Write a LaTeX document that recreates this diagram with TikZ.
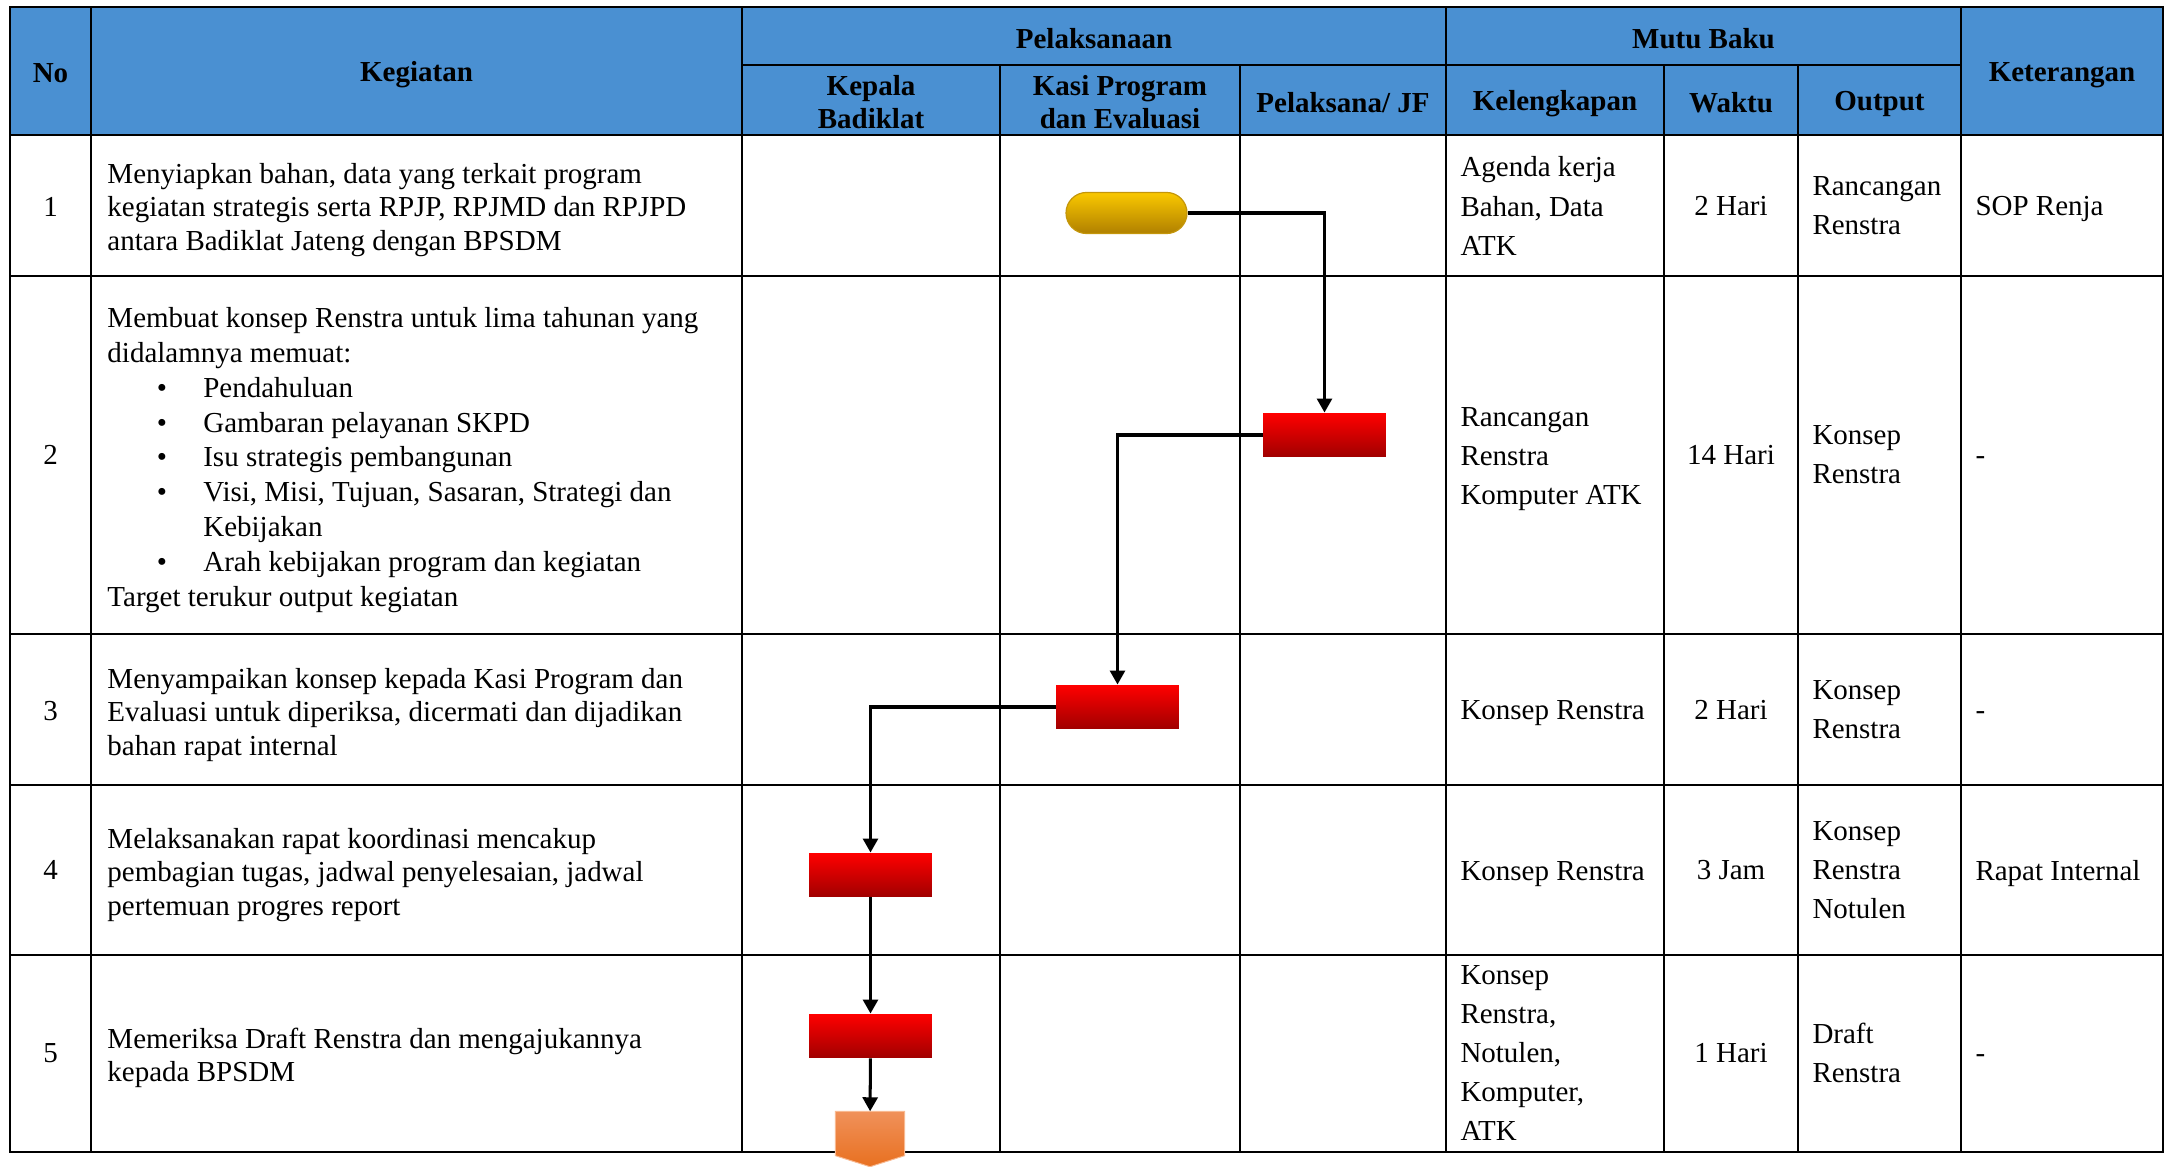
\documentclass[tikz,border=0pt]{standalone}
\usepackage{fontspec}
\setmainfont{Liberation Serif}
\usetikzlibrary{positioning, arrows.meta, calc}

\definecolor{headblue}{RGB}{74,144,210}
\definecolor{startTop}{RGB}{250,200,0}
\definecolor{startBot}{RGB}{176,128,0}
\definecolor{startLine}{RGB}{196,150,10}
\definecolor{procTop}{RGB}{255,0,0}
\definecolor{procMid}{RGB}{232,0,0}
\definecolor{procBot}{RGB}{160,0,0}
\definecolor{endTop}{RGB}{240,145,90}
\definecolor{endBot}{RGB}{232,112,32}
\definecolor{endLine}{RGB}{248,185,145}

\newcommand{\listdot}{\hspace*{20.5pt}\makebox[19.2pt][l]{\textbullet}}

\begin{document}
\begin{tikzpicture}[x=0.414pt, y=-0.414pt,
    grid/.style={draw=black, line width=0.9pt},
    head/.style={font=\fontsize{12}{13.8}\selectfont\bfseries, align=center, inner sep=0pt},
    num/.style={font=\fontsize{12}{13.8}\selectfont, inner sep=0pt},
    cell/.style={font=\fontsize{12}{13.8}\selectfont, align=left, anchor=west, inner sep=0pt},
    mutu/.style={font=\fontsize{12}{16.2}\selectfont, align=left, anchor=west, inner sep=0pt},
    startbox/.style={rectangle, rounded corners=8.5pt, minimum width=50.1pt, minimum height=17pt, inner sep=0pt, draw=startLine, line width=0.5pt, top color=startTop, bottom color=startBot},
    process/.style={rectangle, minimum width=50.9pt, minimum height=18.2pt, inner sep=0pt, top color=procTop, middle color=procMid, bottom color=procBot},
    flow/.style={-{Triangle[length=5.8pt, width=6.2pt]}, line width=1.25pt, black},
]
\useasboundingbox (0,0) rectangle (2176,1167);

% Header background
\fill[headblue] (10,7) rectangle (2163,135);

% Table grid
\draw[grid] (10,7) rectangle (2163,1152);
\foreach \y in {135,276,634,785,955} \draw[grid] (10,\y) -- (2163,\y);
\draw[grid] (742,65) -- (1961,65);
\foreach \x in {91,742,1446,1961} \draw[grid] (\x,7) -- (\x,1152);
\foreach \x in {1000,1240,1664,1798} \draw[grid] (\x,65) -- (\x,1152);

% Header
\node[head] (hno) at (50.5,73) {No};
\node[head] (hkeg) at (416.5,75) {Kegiatan};
\node[head] (hpel) at (1094,39) {Pelaksanaan};
\node[head] (hkep) at (871,102) {Kepala\\Badiklat};
\node[head] (hkasi) at (1120,102) {Kasi Program\\dan Evaluasi};
\node[head] (hjf) at (1343,103) {Pelaksana/ JF};
\node[head] (hmutu) at (1703.5,39) {Mutu Baku};
\node[head] (hkel) at (1555,104) {Kelengkapan};
\node[head] (hwkt) at (1731,103) {Waktu};
\node[head] (hout) at (1879.5,104) {Output};
\node[head] (hket) at (2062,75) {Keterangan};

% Row 1
\node[num] (no1) at (50.5,207) {1};
\node[cell] (keg1) at (107,210) {Menyiapkan bahan, data yang terkait program\\kegiatan strategis serta RPJP, RPJMD dan RPJPD\\antara Badiklat Jateng dengan BPSDM};
\node[mutu] (kel1) at (1460,206) {Agenda kerja\\Bahan, Data\\ATK};
\node[num] (wkt1) at (1731,206) {2 Hari};
\node[mutu] (out1) at (1812,206) {Rancangan\\Renstra};
\node[mutu] (ket1) at (1975,209) {SOP Renja};

% Row 2
\node[num] (no2) at (50.5,455) {2};
\node[cell, font=\fontsize{12}{14.4}\selectfont] (keg2) at (107,460) {Membuat konsep Renstra untuk lima tahunan yang\\didalamnya memuat:\\\listdot Pendahuluan\\\listdot Gambaran pelayanan SKPD\\\listdot Isu strategis pembangunan\\\listdot Visi, Misi, Tujuan, Sasaran, Strategi dan\\\hspace*{39.7pt}Kebijakan\\\listdot Arah kebijakan program dan kegiatan\\Target terukur output kegiatan};
\node[mutu] (kel2) at (1460,459) {Rancangan\\Renstra\\Komputer ATK};
\node[num] (wkt2) at (1731,455) {14 Hari};
\node[mutu] (out2) at (1812,455) {Konsep\\Renstra};
\node[mutu] (ket2) at (1975,461) {-};

% Row 3
\node[num] (no3) at (50.5,711) {3};
\node[cell] (keg3) at (107,715) {Menyampaikan konsep kepada Kasi Program dan\\Evaluasi untuk diperiksa, dicermati dan dijadikan\\bahan rapat internal};
\node[mutu] (kel3) at (1460,713) {Konsep Renstra};
\node[num] (wkt3) at (1731,710) {2 Hari};
\node[mutu] (out3) at (1812,710) {Konsep\\Renstra};
\node[mutu] (ket3) at (1975,716) {-};

% Row 4
\node[num] (no4) at (50.5,870) {4};
\node[cell] (keg4) at (107,875) {Melaksanakan rapat koordinasi mencakup\\pembagian tugas, jadwal penyelesaian, jadwal\\pertemuan progres report};
\node[mutu] (kel4) at (1460,874) {Konsep Renstra};
\node[num] (wkt4) at (1731,870) {3 Jam};
\node[mutu] (out4) at (1812,870) {Konsep\\Renstra\\Notulen};
\node[mutu] (ket4) at (1975,874) {Rapat Internal};

% Row 5
\node[num] (no5) at (50.5,1053) {5};
\node[cell] (keg5) at (107,1058) {Memeriksa Draft Renstra dan mengajukannya\\kepada BPSDM};
\node[mutu] (kel5) at (1460,1053) {Konsep\\Renstra,\\Notulen,\\Komputer,\\ATK};
\node[num] (wkt5) at (1731,1053) {1 Hari};
\node[mutu] (out5) at (1812,1053) {Draft\\Renstra};
\node[mutu] (ket5) at (1975,1059) {-};

% Flow shapes
\node[startbox] (start) at (1126.5,213) {};
\node[process] (p2) at (1324.5,435) {};
\node[process] (p3) at (1117.5,707) {};
\node[process] (p4) at (870.5,875) {};
\node[process] (p5) at (870.5,1036) {};
\node[inner sep=0pt, minimum width=28.2pt, minimum height=18pt] (end) at (870,1133.5) {};
\shade[top color=endTop, bottom color=endBot, draw=endLine, line width=0.4pt] (end.north west) -- (end.north east) -- (end.south east) -- ($(end.south)+(0,11)$) -- (end.south west) -- cycle;

% Connectors
\draw[flow] (start.east) -| (p2.north);
\draw[flow] (p2.west) -| (p3.north);
\draw[flow] (p3.west) -| (p4.north);
\draw[flow] (p4) -- (p5);
\draw[flow] (p5) -- (end);
\end{tikzpicture}
\end{document}
